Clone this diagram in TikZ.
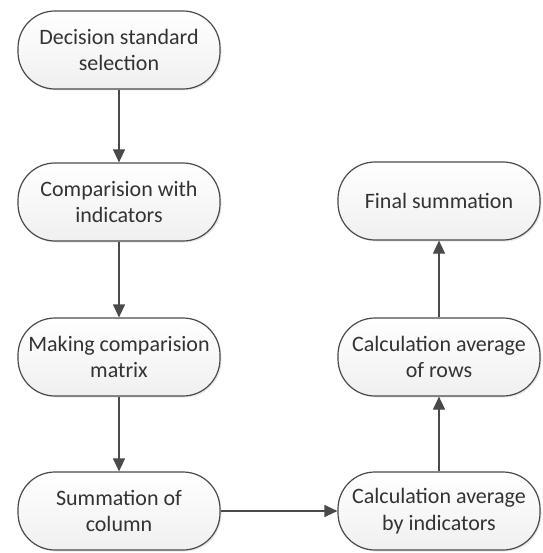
\documentclass[tikz,border=0pt]{standalone}
\usepackage{fontspec}
\setmainfont{Carlito}
\usetikzlibrary{arrows.meta,shadows}
\definecolor{edgec}{HTML}{4A4A4A}
\definecolor{textc}{HTML}{333333}
\tikzset{
  proc/.style={draw=edgec, line width=1.2pt, rounded corners=37pt,
    minimum width=202pt, minimum height=78pt, inner sep=1pt,
    top color=white, bottom color=black!6, align=center,
    text=textc, font=\fontsize{22}{26.5}\selectfont,
    drop shadow={shadow xshift=1.5pt, shadow yshift=-1.5pt, opacity=0.18}},
  conn/.style={draw=edgec, line width=1.2pt, -{Triangle[length=13pt,width=12pt]}}
}
\begin{document}
\begin{tikzpicture}[x=1pt,y=1pt]
\useasboundingbox (0,0) rectangle (542,-553);
\node[proc] (a) at (119,-50) {Decision standard\\selection};
\node[proc] (b) at (119,-202) {Comparision with\\indicators};
\node[proc] (c) at (119,-357) {Making comparision\\matrix};
\node[proc] (d) at (119,-511) {Summation of\\column};
\node[proc] (e) at (439,-511) {Calculation average\\by indicators};
\node[proc] (f) at (439,-357) {Calculation average\\of rows};
\node[proc] (g) at (439,-201) {Final summation};
\draw[conn] (a) -- (b);
\draw[conn] (b) -- (c);
\draw[conn] (c) -- (d);
\draw[conn] (d) -- (e);
\draw[conn] (e) -- (f);
\draw[conn] (f) -- (g);
\end{tikzpicture}
\end{document}
